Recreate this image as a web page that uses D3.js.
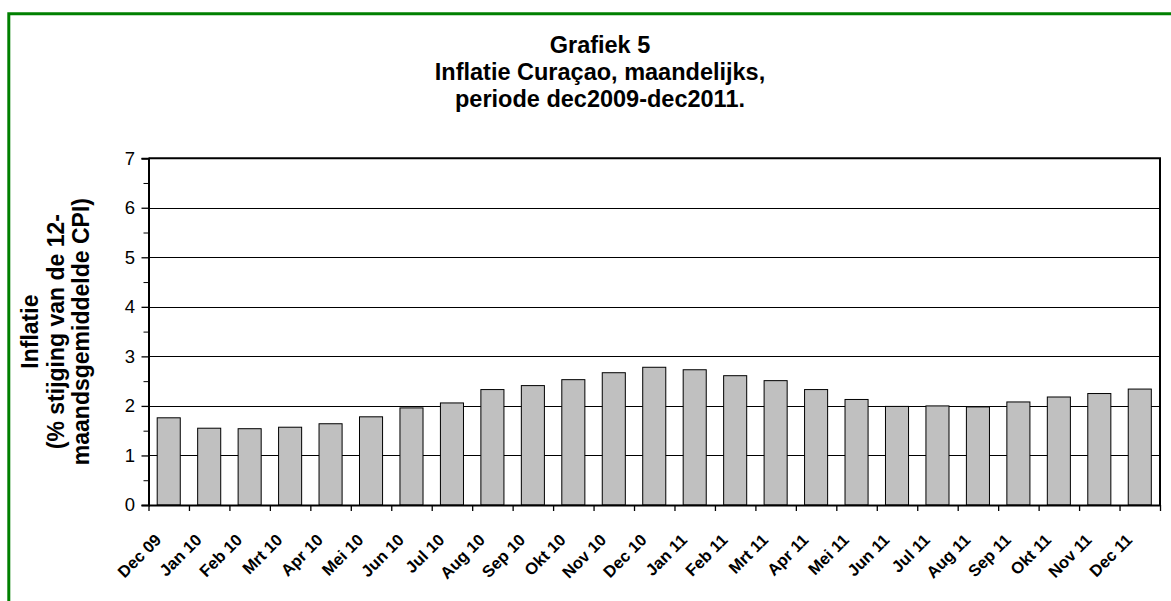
<!DOCTYPE html>
<html>
<head>
<meta charset="utf-8">
<script src="https://cdn.jsdelivr.net/npm/d3@7"></script>
<style>
  body { margin: 0; background: #fff; }
  svg { display: block; font-family: "Liberation Sans", Arial, sans-serif; }
</style>
</head>
<body>
<div id="chart"></div>
<script>
// months on the x axis
const categories = ["Dec 09","Jan 10","Feb 10","Mrt 10","Apr 10","Mei 10","Jun 10","Jul 10","Aug 10","Sep 10","Okt 10","Nov 10","Dec 10",
	"Jan 11","Feb 11","Mrt 11","Apr 11","Mei 11","Jun 11","Jul 11","Aug 11","Sep 11","Okt 11","Nov 11","Dec 11"];

// inflation, % rise of 12-month average CPI
const inflatie = [1.76,1.55,1.54,1.57,1.64,1.78,1.96,2.06,2.33,2.41,2.53,2.67,2.78,
	2.73,2.61,2.51,2.33,2.13,1.99,2.00,1.98,2.08,2.18,2.25,2.34];

const yTicks = [0,1,2,3,4,5,6,7];
const yMinorTicks = [0.5,1.5,2.5,3.5,4.5,5.5,6.5];
const gridValues = [1,2,3,4,5,6];

const titleLines = ["Grafiek 5", "Inflatie Curaçao, maandelijks,", "periode dec2009-dec2011."];
const yTitleLines = ["Inflatie", "(% stijging van de 12-", "maandsgemiddelde CPI)"];

const width = 1171,
	height = 601,
	margin = {top: 158.2, right: 11, bottom: 96, left: 148.5},
	innerWidth = width - margin.left - margin.right,
	innerHeight = height - margin.top - margin.bottom;

const svg = d3.select("#chart")
	.append("svg")
	.attr("width", width)
	.attr("height", height);

// green frame: only the left and top edges fall inside the picture
svg.append("path")
	.attr("d", `M8.8,${height}V13.8H${width}`)
	.style("fill", "none")
	.style("stroke", "#008000")
	.style("stroke-width", 3);

// title
svg.append("g")
	.selectAll("text")
	.data(titleLines)
	.enter()
		.append("text")
		.attr("x", 600)
		.attr("y", (d, i) => 53 + i * 27)
		.attr("text-anchor", "middle")
		.style("font-size", "23.5px")
		.style("font-weight", "bold")
		.text(d => d);

const x = d3.scaleBand()
	.domain(categories)
	.range([margin.left, margin.left + innerWidth])
	.paddingInner(0.43)
	.paddingOuter(0.215);

const xEdges = d3.scaleLinear()
	.domain([0, categories.length])
	.range([margin.left, margin.left + innerWidth]);

const y = d3.scaleLinear()
	.domain([0, 7])
	.range([margin.top + innerHeight, margin.top]);

// gridlines
svg.append("g")
	.selectAll("line")
	.data(gridValues)
	.enter()
		.append("line")
		.attr("x1", margin.left)
		.attr("x2", margin.left + innerWidth)
		.attr("y1", d => Math.round(y(d)) + 0.5)
		.attr("y2", d => Math.round(y(d)) + 0.5)
		.style("stroke", "#000")
		.style("stroke-width", 1);

// bars
svg.append("g")
	.selectAll("rect")
	.data(inflatie)
	.enter()
		.append("rect")
		.attr("x", (d, i) => x(categories[i]))
		.attr("y", d => y(d))
		.attr("width", x.bandwidth())
		.attr("height", d => y(0) - y(d))
		.style("fill", "#c0c0c0")
		.style("stroke", "#000")
		.style("stroke-width", 1);

// top and right border of the plot area
svg.append("path")
	.attr("d", `M${margin.left},${margin.top}H${margin.left + innerWidth}V${margin.top + innerHeight}`)
	.style("fill", "none")
	.style("stroke", "#000")
	.style("stroke-width", 2);

// y axis, major and minor ticks
const yAxis = d3.axisLeft(y)
	.tickValues(yTicks)
	.tickSize(7)
	.tickPadding(6.5)
	.tickFormat(d3.format("d"));

const yAxisMinor = d3.axisLeft(y)
	.tickValues(yMinorTicks)
	.tickSize(5)
	.tickFormat("");

const gy = svg.append("g")
	.attr("transform", `translate(${margin.left},0)`)
	.call(yAxis);
svg.append("g")
	.attr("transform", `translate(${margin.left},0)`)
	.call(yAxisMinor)
	.select(".domain").remove();

gy.selectAll("text")
	.style("font-size", "18.5px")
	.style("fill", "#000")
	.attr("font-family", null);
gy.select(".domain").style("stroke-width", 2);
gy.selectAll(".tick line").style("stroke-width", 1.3);

// x axis: ticks on category edges
const xAxis = d3.axisBottom(xEdges)
	.tickValues(d3.range(categories.length + 1))
	.tickSize(6)
	.tickSizeOuter(0)
	.tickFormat("");

const gx = svg.append("g")
	.attr("transform", `translate(0,${margin.top + innerHeight})`)
	.call(xAxis);
gx.select(".domain").style("stroke-width", 2);
gx.selectAll(".tick line").style("stroke-width", 1.3);

// rotated month labels
const labelY = margin.top + innerHeight + 36;
svg.append("g")
	.selectAll("text")
	.data(categories)
	.enter()
		.append("text")
		.attr("x", d => x(d) + x.bandwidth() / 2 - 6.5)
		.attr("y", labelY)
		.attr("transform", d => `rotate(-45,${x(d) + x.bandwidth() / 2 - 6.5},${labelY})`)
		.attr("text-anchor", "end")
		.style("font-size", "16.5px")
		.style("font-weight", "bold")
		.text(d => d);

// y axis title, three lines
const yMid = margin.top + innerHeight / 2;
svg.append("g")
	.selectAll("text")
	.data(yTitleLines)
	.enter()
		.append("text")
		.attr("x", (d, i) => 38.5 + i * 25.5)
		.attr("y", yMid)
		.attr("transform", (d, i) => `rotate(-90,${38.5 + i * 25.5},${yMid})`)
		.attr("text-anchor", "middle")
		.style("font-size", "23px")
		.style("font-weight", "bold")
		.text(d => d);
</script>
</body>
</html>
